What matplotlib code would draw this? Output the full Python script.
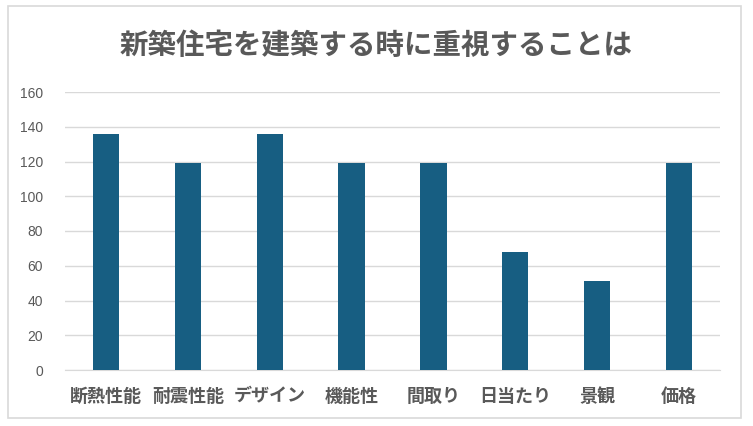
import matplotlib.pyplot as plt
from matplotlib.patches import Rectangle

plt.rcParams['font.family'] = ['Noto Sans CJK JP', 'DejaVu Sans']

categories = ['断熱性能', '耐震性能', 'デザイン', '機能性', '間取り', '日当たり', '景観', '価格']
values = [136, 119, 136, 119, 119, 68, 51, 119]
yticks = [0, 20, 40, 60, 80, 100, 120, 140, 160]
title = '新築住宅を建築する時に重視することは'

bar_color = '#175E82'
grid_color = '#D9D9D9'
text_color = '#595959'

fig = plt.figure(figsize=(7.53, 4.26), dpi=100, facecolor='white')

# outer chart border
border = Rectangle((8 / 753, 8 / 426), 733 / 753, 412 / 426,
                   transform=fig.transFigure, facecolor='none',
                   edgecolor=grid_color, linewidth=1.2, zorder=-1)
fig.patches.append(border)

ax = fig.add_axes([65 / 753, 56 / 426, 655 / 753, 278 / 426])
ax.set_facecolor('none')

x = range(len(categories))
ax.bar(x, values, width=0.32, color=bar_color, zorder=3)

ax.set_xlim(-0.5, len(categories) - 0.5)
ax.set_ylim(0, 160)
ax.set_yticks(yticks)
ax.set_xticks(list(x))
ax.set_xticklabels(categories, fontsize=13, fontweight='bold', color=text_color)
ax.tick_params(axis='y', labelsize=10, colors=text_color, length=0, pad=16)
ax.tick_params(axis='x', length=0, pad=12)
for lbl in ax.get_yticklabels():
    lbl.set_family(['Liberation Sans', 'DejaVu Sans'])

ax.grid(axis='y', color=grid_color, linewidth=1, zorder=0)
for side in ['top', 'right', 'left']:
    ax.spines[side].set_visible(False)
ax.spines['bottom'].set_color(grid_color)

fig.text(0.5, 1 - 46 / 426, title, ha='center', va='center',
         fontsize=20.5, fontweight='bold', color=text_color)

fig.savefig('out.png', dpi=100)
